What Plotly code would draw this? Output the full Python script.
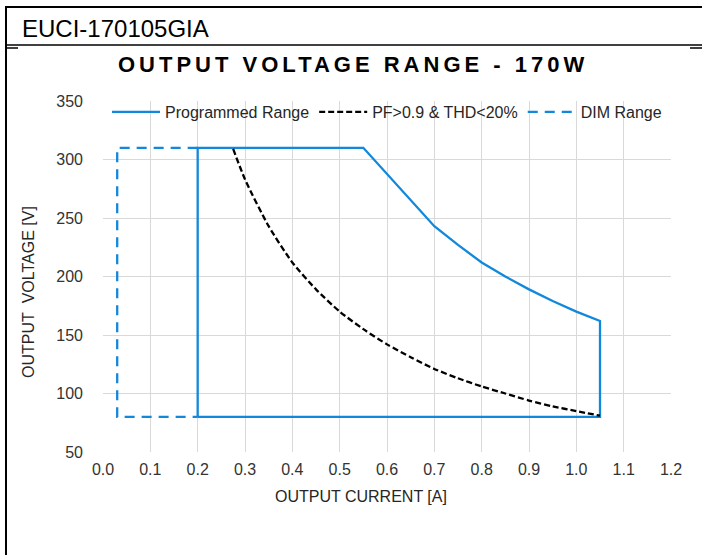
import plotly.graph_objects as go

# ---- data ----
prog_current = [0.2, 0.2, 0.55, 0.7, 0.75, 0.8, 0.85, 0.9, 0.95, 1.0, 1.05, 1.05, 0.2]
prog_voltage = [80, 310, 310, 243, 227, 212, 200, 189, 179, 170, 162, 80, 80]

pf_current = [0.275, 0.3, 0.35, 0.4, 0.45, 0.5, 0.55, 0.6, 0.65, 0.7, 0.75, 0.8, 0.85, 0.9, 0.95, 1.0, 1.05]
pf_voltage = [309, 283, 243, 212, 189, 170, 155, 142, 131, 121, 113, 106, 100, 94, 89, 85, 81]

dim_current = [0.2, 0.03, 0.03, 0.2]
dim_voltage = [310, 310, 80, 80]

x_ticks = [0.0, 0.1, 0.2, 0.3, 0.4, 0.5, 0.6, 0.7, 0.8, 0.9, 1.0, 1.1, 1.2]
y_ticks = [50, 100, 150, 200, 250, 300, 350]

header_text = "EUCI-170105GIA"
title_text = "OUTPUT VOLTAGE RANGE - 170W"
x_title = "OUTPUT CURRENT [A]"
y_title = "OUTPUT\u00a0 VOLTAGE [V]"

BLUE = "#1188DB"
FONT = "Liberation Sans, Arial, sans-serif"

W, H = 702, 555
L, R, T, B = 103, 671, 101, 452


def px_x(p):
    return (p - L) / (R - L)


def px_y(p):
    return (B - p) / (B - T)


fig = go.Figure()
fig.add_trace(go.Scatter(x=prog_current, y=prog_voltage, mode="lines", name="Programmed Range",
                         line=dict(color=BLUE, width=2.3)))
fig.add_trace(go.Scatter(x=pf_current, y=pf_voltage, mode="lines", name="PF>0.9 & THD<20%",
                         line=dict(color="black", width=2.3, dash="6px,3px", shape="spline", smoothing=0.6)))
fig.add_trace(go.Scatter(x=dim_current, y=dim_voltage, mode="lines", name="DIM Range",
                         line=dict(color=BLUE, width=2.3, dash="10px,7px")))

shapes = []
line_black = dict(color="black", width=2)
shapes.append(dict(type="line", xref="paper", yref="paper", x0=px_x(6), x1=px_x(6), y0=px_y(7), y1=px_y(556), line=line_black))
shapes.append(dict(type="line", xref="paper", yref="paper", x0=px_x(5), x1=px_x(702), y0=px_y(7), y1=px_y(7), line=line_black))
shapes.append(dict(type="line", xref="paper", yref="paper", x0=px_x(6), x1=px_x(702), y0=px_y(45), y1=px_y(45), line=dict(color="black", width=1.5)))
shapes.append(dict(type="line", xref="paper", yref="paper", x0=px_x(6), x1=px_x(18), y0=px_y(48), y1=px_y(48), line=dict(color="black", width=1.5)))
shapes.append(dict(type="line", xref="paper", yref="paper", x0=px_x(690), x1=px_x(702), y0=px_y(48), y1=px_y(48), line=dict(color="black", width=1.5)))

annotations = [
    dict(text=header_text, xref="paper", yref="paper", x=px_x(20), y=px_y(28), xanchor="left", yanchor="middle",
         showarrow=False, font=dict(family=FONT, size=24, color="black")),
    dict(text='<span style="letter-spacing:4px">' + title_text + '</span>', xref="paper", yref="paper",
         x=px_x(353), y=px_y(64), xanchor="center", yanchor="middle",
         showarrow=False, font=dict(family=FONT, size=22, color="black", weight="bold")),
    dict(text=x_title, xref="paper", yref="paper", x=px_x(361), y=px_y(496), xanchor="center", yanchor="middle",
         showarrow=False, font=dict(family=FONT, size=16, color="#262626")),
    dict(text=y_title, xref="paper", yref="paper", x=px_x(28), y=px_y(292), xanchor="center", yanchor="middle",
         textangle=-90, showarrow=False, font=dict(family=FONT, size=16, color="#262626")),
]

fig.update_layout(
    width=W, height=H,
    margin=dict(l=L, r=W - R, t=T, b=H - B, pad=0),
    paper_bgcolor="white", plot_bgcolor="white",
    font=dict(family=FONT, size=16, color="#333333"),
    showlegend=True,
    legend=dict(orientation="h", x=0.5, xanchor="center", y=px_y(112), yanchor="middle",
                bgcolor="rgba(0,0,0,0)", font=dict(family=FONT, size=16, color="#262626"),
                itemwidth=48, tracegroupgap=0),
    shapes=shapes,
    annotations=annotations,
)
fig.update_xaxes(range=[0, 1.2], tickvals=x_ticks, ticktext=[f"{v:.1f}" for v in x_ticks],
                 showgrid=True, gridcolor="#d9d9d9", gridwidth=1, zeroline=False, showline=False,
                 ticks="", ticklabelstandoff=6, tickfont=dict(size=16, color="#333333"))
fig.update_yaxes(range=[50, 350], tickvals=y_ticks, showgrid=True, gridcolor="#d9d9d9", gridwidth=1,
                 zeroline=False, showline=False, ticks="", ticklabelstandoff=19,
                 tickfont=dict(size=16, color="#333333"))

fig.write_html("out.html", config={"displayModeBar": False},
               post_script="document.body.style.margin='0';document.body.style.overflow='hidden';")
